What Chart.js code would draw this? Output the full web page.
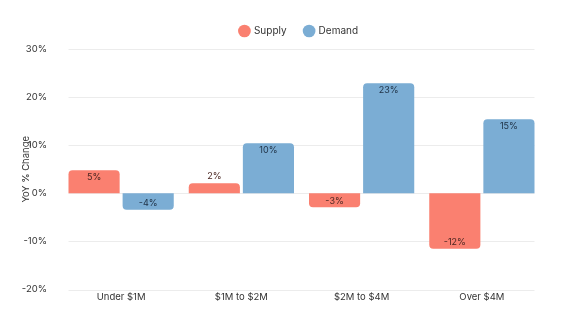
<!DOCTYPE html>
<html><head><meta charset="utf-8">
<script src="https://cdn.jsdelivr.net/npm/chart.js@4/dist/chart.umd.min.js"></script>
<style>html,body{margin:0;padding:0;background:#fff}#wrap{width:576px;height:324px}</style>
</head><body><div id="wrap"><canvas id="c"></canvas></div>
<script>
const categories = ['Under $1M', '$1M to $2M', '$2M to $4M', 'Over $4M'];
const supplyValues = [4.8, 2.1, -2.9, -11.5];
const demandValues = [-3.4, 10.4, 22.9, 15.4];
const supplyLabels = ['5%', '2%', '-3%', '-12%'];
const demandLabels = ['-4%', '10%', '23%', '15%'];
const yTicks = [-20, -10, 0, 10, 20, 30];

const FONT = 'Inter, "Noto Sans", sans-serif';

const gridPlugin = {
  id: 'grid',
  beforeDraw(chart) {
    // center the legend over the plot rather than over the whole canvas
    const lg = chart.legend;
    if (lg && !lg._shifted) { lg.left += 28; lg.right += 28; lg.top -= 3; lg.bottom -= 3; lg._shifted = true; }
  },
  beforeDatasetsDraw(chart) {
    const y = chart.scales.y;
    const m0 = chart.getDatasetMeta(0), m1 = chart.getDatasetMeta(chart.data.datasets.length - 1);
    const first = m0.data[0], last = m1.data[m1.data.length - 1];
    const left = first.x - first.width / 2, right = last.x + last.width / 2;
    const ctx = chart.ctx;
    ctx.save();
    ctx.strokeStyle = '#ececec';
    ctx.lineWidth = 1;
    y.ticks.forEach(t => {
      const py = Math.round(y.getPixelForValue(t.value)) + 0.5;
      ctx.beginPath(); ctx.moveTo(left, py); ctx.lineTo(right, py); ctx.stroke();
    });
    ctx.restore();
  }
};

const labelPlugin = {
  id: 'barLabels',
  afterDatasetsDraw(chart) {
    const ctx = chart.ctx;
    ctx.save();
    ctx.font = '9px ' + FONT;
    ctx.textAlign = 'center';
    ctx.textBaseline = 'middle';
    chart.data.datasets.forEach((ds, di) => {
      const meta = chart.getDatasetMeta(di);
      meta.data.forEach((bar, i) => {
        const h = Math.abs(bar.base - bar.y);
        const pos = ds.data[i] >= 0;
        let ty;
        if (h < 12) ty = pos ? bar.y - 7 : bar.y + 7;
        else ty = pos ? bar.y + 7 : bar.y - 6;
        ctx.fillStyle = ds.labelColor;
        ctx.fillText(ds.labels[i], bar.x, ty);
      });
    });
    ctx.restore();
  }
};

new Chart(document.getElementById('c'), {
  type: 'bar',
  data: {
    labels: categories,
    datasets: [
      { label: 'Supply', data: supplyValues, labels: supplyLabels, labelColor: '#4a2622',
        backgroundColor: '#fa8070', borderRadius: 4, borderSkipped: 'start',
        barPercentage: 0.945, categoryPercentage: 0.9 },
      { label: 'Demand', data: demandValues, labels: demandLabels, labelColor: '#1e3044',
        backgroundColor: '#7badd4', borderRadius: 4, borderSkipped: 'start',
        barPercentage: 0.945, categoryPercentage: 0.9 }
    ]
  },
  options: {
    responsive: true,
    maintainAspectRatio: false,
    animation: false,
    layout: { padding: { top: 11, right: 34, bottom: 19, left: 0 } },
    plugins: {
      tooltip: { enabled: false },
      legend: {
        position: 'top',
        labels: { usePointStyle: true, pointStyle: 'circle', boxWidth: 9, boxHeight: 9,
          padding: 18, color: '#333', font: { family: FONT, size: 10 } }
      }
    },
    scales: {
      x: {
        grid: { display: false, drawTicks: false },
        border: { display: false },
        ticks: { color: '#333', font: { family: FONT, size: 9.5 }, padding: 2 }
      },
      y: {
        min: -20, max: 30,
        afterFit(s) { s.width = 61; },
        afterBuildTicks(s) { s.ticks = yTicks.map(v => ({ value: v })); },
        grid: { display: false },
        border: { display: false },
        title: { display: true, text: 'YoY % Change', color: '#333',
          font: { family: FONT, size: 9.5 }, padding: { top: 20, bottom: 0 } },
        ticks: { color: '#333', font: { family: FONT, size: 9.5 }, padding: 6,
          callback: v => v + '%' }
      }
    }
  },
  plugins: [gridPlugin, labelPlugin]
});
</script></body></html>
